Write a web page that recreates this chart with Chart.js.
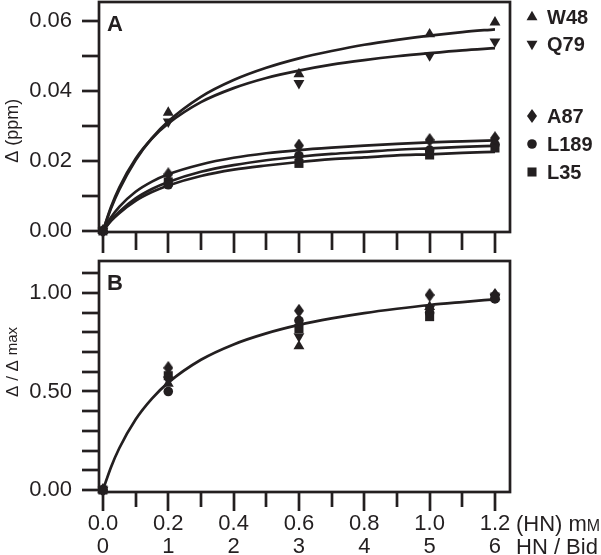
<!DOCTYPE html>
<html>
<head>
<meta charset="utf-8">
<script src="https://cdn.jsdelivr.net/npm/chart.js@4.4.1/dist/chart.umd.min.js"></script>
<style>
  html, body { margin: 0; padding: 0; background: #fff; }
  #wrap { position: relative; width: 601px; height: 555px; }
  canvas { position: absolute; left: 0; }
  #chartA { top: 0; }
  #chartB { top: 256px; }
</style>
</head>
<body>
<div id="wrap">
  <canvas id="chartA" width="601" height="256"></canvas>
  <canvas id="chartB" width="601" height="299"></canvas>
</div>
<script>
const ink = '#231f20';
const font = '"Liberation Sans", Arial, Helvetica, sans-serif';

// HN concentration (mM) of the titration points
const conc = [0, 0.2, 0.6, 1.0, 1.2];
const residues = ['W48', 'Q79', 'A87', 'L189', 'L35'];

// panel A: chemical shift change (ppm)
const shiftW48 = [0, 0.0338, 0.0448, 0.0562, 0.0596];
const shiftQ79 = [0, 0.0312, 0.0422, 0.0501, 0.0541];
const shiftA87 = [0, 0.0162, 0.0244, 0.0260, 0.0265];
const shiftL189 = [0, 0.0132, 0.0215, 0.0231, 0.0247];
const shiftL35 = [0, 0.0140, 0.0193, 0.0217, 0.0237];

// panel B: normalised change
const normW48 = [0, 0.54, 0.73, 0.93, 0.98];
const normQ79 = [0, 0.56, 0.78, 0.92, 0.98];
const normA87 = [0, 0.62, 0.91, 0.99, 0.99];
const normL189 = [0, 0.50, 0.86, 0.90, 0.97];
const normL35 = [0, 0.58, 0.82, 0.88, 0.98];

// fitted curves at these concentrations
const curveX = [0, 0.025, 0.05, 0.1, 0.15, 0.2, 0.3, 0.4, 0.5, 0.6, 0.7, 0.8, 0.9, 1.0, 1.1, 1.2];
const fitW48 = [0, 0.0065, 0.0118, 0.0202, 0.0265, 0.0313, 0.0383, 0.0431, 0.0466, 0.0493, 0.0514, 0.0532, 0.0546, 0.0558, 0.0568, 0.0576];
const fitQ79 = [0, 0.0069, 0.0124, 0.0206, 0.0264, 0.0307, 0.0368, 0.0408, 0.0437, 0.0458, 0.0475, 0.0488, 0.0499, 0.0508, 0.0516, 0.0522];
const fitA87 = [0, 0.0039, 0.0069, 0.0112, 0.0141, 0.0162, 0.0190, 0.0209, 0.0222, 0.0231, 0.0238, 0.0244, 0.0249, 0.0253, 0.0256, 0.0259];
const fitL189 = [0, 0.0031, 0.0055, 0.0093, 0.0120, 0.0140, 0.0169, 0.0188, 0.0202, 0.0212, 0.0220, 0.0226, 0.0232, 0.0236, 0.0240, 0.0243];
const fitL35 = [0, 0.0029, 0.0051, 0.0086, 0.0111, 0.0130, 0.0157, 0.0175, 0.0187, 0.0197, 0.0205, 0.0210, 0.0216, 0.0219, 0.0223, 0.0226];
const fitNorm = [0, 0.117, 0.212, 0.358, 0.464, 0.545, 0.661, 0.739, 0.795, 0.838, 0.871, 0.898, 0.920, 0.939, 0.954, 0.968];

// ticks
const xTicks = [0, 0.1, 0.2, 0.3, 0.4, 0.5, 0.6, 0.7, 0.8, 0.9, 1.0, 1.1, 1.2];
const xLabels = [0, 0.2, 0.4, 0.6, 0.8, 1.0, 1.2];
const yTicksA = [0, 0.01, 0.02, 0.03, 0.04, 0.05, 0.06];
const yLabelsA = [0, 0.02, 0.04, 0.06];
const yTicksB = [0, 0.1, 0.2, 0.3, 0.4, 0.5, 0.6, 0.7, 0.8, 0.9, 1.0, 1.1];
const yLabelsB = [0, 0.5, 1.0];

// tall diamond marker for A87
const diamond = document.createElement('canvas');
diamond.width = 10; diamond.height = 14;
(function () {
  const c = diamond.getContext('2d');
  c.fillStyle = ink;
  c.beginPath();
  c.moveTo(5, 0); c.lineTo(10, 7); c.lineTo(5, 14); c.lineTo(0, 7);
  c.closePath(); c.fill();
})();

const markers = {
  W48: { pointStyle: 'triangle', rotation: 0, radius: 6.3 },
  Q79: { pointStyle: 'triangle', rotation: 180, radius: 6.3 },
  A87: { pointStyle: diamond, rotation: 0, radius: 7 },
  L189: { pointStyle: 'circle', rotation: 0, radius: 4.8 },
  L35: { pointStyle: 'rect', rotation: 0, radius: 6.4 }
};

function pointSets(values) {
  return residues.map((r, i) => ({
    label: r,
    data: conc.map((c, j) => ({ x: c, y: values[i][j] })),
    pointStyle: markers[r].pointStyle,
    rotation: markers[r].rotation,
    pointRadius: markers[r].radius,
    pointBackgroundColor: ink,
    pointBorderColor: ink,
    pointBorderWidth: 0,
    showLine: false,
    clip: false,
    order: 0
  }));
}

function curveSet(label, values) {
  return {
    label: label,
    data: curveX.map((c, j) => ({ x: c, y: values[j] })),
    showLine: true,
    borderColor: ink,
    borderWidth: 2.7,
    pointRadius: 0,
    cubicInterpolationMode: 'monotone',
    fill: false,
    order: 1
  };
}

function line(ctx, x1, y1, x2, y2) {
  ctx.beginPath(); ctx.moveTo(x1, y1); ctx.lineTo(x2, y2); ctx.stroke();
}

// frame, tick marks, panel letter, axis title, legend
const panelDeco = {
  id: 'panelDeco',
  afterDraw(chart, args, o) {
    const { ctx, chartArea: a, scales: { x, y } } = chart;
    ctx.save();
    ctx.strokeStyle = ink;
    ctx.fillStyle = ink;
    ctx.lineWidth = 2.7;
    ctx.strokeRect(a.left, a.top, a.right - a.left, a.bottom - a.top);
    o.yTicks.forEach(v => {
      const py = Math.round(y.getPixelForValue(v));
      line(ctx, a.left - 17, py, a.left, py);
    });
    xTicks.forEach((v, i) => {
      const px = Math.round(x.getPixelForValue(v));
      line(ctx, px, a.bottom, px, a.bottom + (i % 2 === 0 ? o.majorLen : o.minorLen));
    });

    ctx.font = 'bold 22px ' + font;
    ctx.textAlign = 'left';
    ctx.textBaseline = 'alphabetic';
    ctx.fillText(o.letter, a.left + 8, o.letterY);

    // rotated axis title
    ctx.save();
    ctx.translate(13, y.getPixelForValue(o.titleAt));
    ctx.rotate(-Math.PI / 2);
    ctx.textBaseline = 'middle';
    let w = 0;
    o.title.forEach(p => { ctx.font = p.size + 'px ' + font; w += ctx.measureText(p.text).width; });
    let tx = -w / 2;
    o.title.forEach(p => {
      ctx.font = p.size + 'px ' + font;
      ctx.fillText(p.text, tx, p.dy || 0);
      tx += ctx.measureText(p.text).width;
    });
    ctx.restore();

    if (o.legendY) {
      ctx.font = 'bold 20px ' + font;
      residues.forEach((r, i) => {
        const m = markers[r];
        Chart.helpers.drawPoint(ctx, { pointStyle: m.pointStyle, rotation: m.rotation, radius: m.radius, borderWidth: 0 }, 532, o.legendY[i]);
        ctx.fillText(r, 547, o.legendY[i] + 7);
      });
    }

    if (o.xUnits) {
      const rowY = o.xUnits.y;
      ctx.font = '22px ' + font;
      ctx.fillText('(HN) m', 516, rowY[0]);
      const wm = ctx.measureText('(HN) m').width;
      ctx.font = '16px ' + font;
      ctx.fillText('M', 516 + wm, rowY[0]);
      ctx.font = '22px ' + font;
      ctx.fillText('HN / Bid', 516, rowY[1]);
    }
    ctx.restore();
  }
};

Chart.register(panelDeco);

const yAxisCommon = (labels, digits, min, max) => ({
  type: 'linear',
  min: min, max: max,
  grid: { display: false, drawTicks: false },
  border: { display: false },
  afterBuildTicks: s => { s.ticks = labels.map(v => ({ value: v })); },
  afterFit: s => { s.width = 99; s.paddingTop = 0; s.paddingBottom = 0; },
  ticks: {
    color: ink,
    padding: 27,
    font: { family: font, size: 22 },
    callback: v => v.toFixed(digits)
  }
});

new Chart(document.getElementById('chartA'), {
  type: 'scatter',
  data: {
    datasets: pointSets([shiftW48, shiftQ79, shiftA87, shiftL189, shiftL35]).concat([
      curveSet('W48 fit', fitW48),
      curveSet('Q79 fit', fitQ79),
      curveSet('A87 fit', fitA87),
      curveSet('L189 fit', fitL189),
      curveSet('L35 fit', fitL35)
    ])
  },
  options: {
    responsive: false,
    animation: false,
    devicePixelRatio: 1,
    events: [],
    layout: { autoPadding: false, padding: { top: 2, right: 91, bottom: 0, left: 0 } },
    scales: {
      x: {
        type: 'linear', min: -0.012, max: 1.246,
        grid: { display: false, drawTicks: false }, border: { display: false },
        ticks: { display: false },
        afterFit: s => { s.height = 24; s.paddingLeft = 0; s.paddingRight = 0; }
      },
      y: yAxisCommon(yLabelsA, 2, -0.0003, 0.0654)
    },
    plugins: {
      legend: { display: false },
      tooltip: { enabled: false },
      panelDeco: {
        yTicks: yTicksA, majorLen: 21, minorLen: 18,
        letter: 'A', letterY: 31,
        titleAt: 0.0286,
        title: [{ text: '\u0394 (ppm)', size: 18 }],
        legendY: [17, 44, 116, 144, 172]
      }
    }
  }
});

new Chart(document.getElementById('chartB'), {
  type: 'scatter',
  data: {
    datasets: pointSets([normW48, normQ79, normA87, normL189, normL35]).concat([
      curveSet('global fit', fitNorm)
    ])
  },
  options: {
    responsive: false,
    animation: false,
    devicePixelRatio: 1,
    events: [],
    layout: { autoPadding: false, padding: { top: 5, right: 91, bottom: 0, left: 0 } },
    scales: {
      x: {
        type: 'linear', min: -0.012, max: 1.246,
        grid: { display: false, drawTicks: false }, border: { display: false },
        afterBuildTicks: s => { s.ticks = xLabels.map(v => ({ value: v })); },
        afterFit: s => { s.height = 63; s.paddingLeft = 0; s.paddingRight = 0; },
        ticks: {
          color: ink,
          padding: 20,
          maxRotation: 0,
          font: { family: font, size: 22, lineHeight: 1.05 },
          callback: v => [v.toFixed(1), String(Math.round(v * 5))]
        }
      },
      y: yAxisCommon(yLabelsB, 2, -0.0102, 1.1624)
    },
    plugins: {
      legend: { display: false },
      tooltip: { enabled: false },
      panelDeco: {
        yTicks: yTicksB, majorLen: 19, minorLen: 15,
        letter: 'B', letterY: 34,
        titleAt: 0.65,
        title: [{ text: '\u0394 / \u0394 ', size: 17 }, { text: 'max', size: 15 }],
        xUnits: { y: [275, 298] }
      }
    }
  }
});
</script>
</body>
</html>
